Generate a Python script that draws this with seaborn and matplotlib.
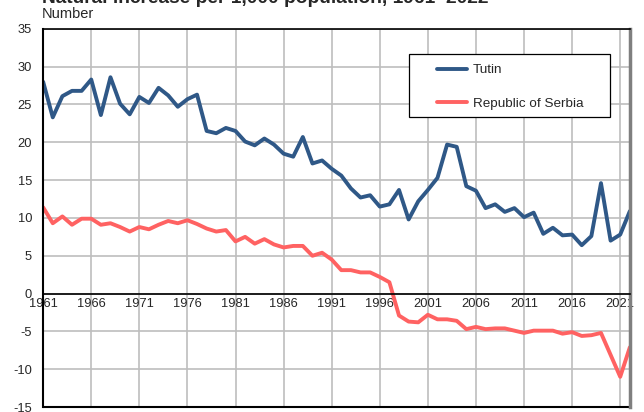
import pandas as pd
import seaborn as sns
import matplotlib.pyplot as plt
from matplotlib.patches import Rectangle

# Natural increase per 1,000 population
years = list(range(1961, 2023))
tutin = [28.0, 23.3, 26.1, 26.8, 26.8, 28.3, 23.6, 28.6, 25.1, 23.7,
         26.0, 25.2, 27.2, 26.2, 24.7, 25.7, 26.3, 21.5, 21.2, 21.9,
         21.5, 20.1, 19.6, 20.5, 19.7, 18.5, 18.1, 20.7, 17.2, 17.6,
         16.5, 15.6, 13.9, 12.7, 13.0, 11.5, 11.8, 13.7, 9.8, 12.2,
         13.7, 15.3, 19.7, 19.4, 14.2, 13.6, 11.3, 11.8, 10.8, 11.3,
         10.1, 10.7, 7.9, 8.7, 7.7, 7.8, 6.4, 7.6, 14.6, 7.0,
         7.8, 10.9]
serbia = [11.4, 9.3, 10.2, 9.1, 9.9, 9.9, 9.1, 9.3, 8.8, 8.2,
          8.8, 8.5, 9.1, 9.6, 9.3, 9.7, 9.2, 8.6, 8.2, 8.4,
          6.9, 7.5, 6.6, 7.2, 6.5, 6.1, 6.3, 6.3, 5.0, 5.4,
          4.5, 3.1, 3.1, 2.8, 2.8, 2.2, 1.5, -2.9, -3.7, -3.8,
          -2.8, -3.4, -3.4, -3.6, -4.7, -4.4, -4.7, -4.6, -4.6, -4.9,
          -5.2, -4.9, -4.9, -4.9, -5.3, -5.1, -5.6, -5.5, -5.2, -8.1,
          -11.0, -7.1]
series_names = ['Tutin', 'Republic of Serbia']
tick_years = list(range(1961, 2022, 5))

df = pd.DataFrame({'year': years * 2,
                   'value': tutin + serbia,
                   'area': [series_names[0]] * len(years) + [series_names[1]] * len(years)})

sns.set_style('white')
plt.rcParams['font.family'] = ['Liberation Sans', 'DejaVu Sans']
plt.rcParams['axes.unicode_minus'] = False

fig = plt.figure(figsize=(6.44, 4.12), dpi=100)
ax = fig.add_axes([0.067, 0.012, 0.911, 0.918])

sns.lineplot(data=df, x='year', y='value', hue='area', hue_order=series_names,
             palette=['#2F5887', '#FF6262'], linewidth=2.8, ax=ax, legend=True)

ax.set_xlim(1961, 2022)
ax.set_ylim(-15, 35)
ax.set_xticks(tick_years)
ax.set_yticks(range(-15, 36, 5))
ax.set_xlabel('')
ax.set_ylabel('')
ax.grid(True, color='#BEBEBE', linewidth=1.2)
ax.set_axisbelow(True)

# horizontal axis crosses at 0
ax.spines['bottom'].set_position(('data', 0))
ax.spines['bottom'].set_color('black')
ax.spines['bottom'].set_linewidth(1.2)
ax.axhline(-15, color='black', linewidth=1.5, clip_on=False)
ax.spines['left'].set_color('black')
ax.spines['left'].set_linewidth(1.5)
ax.spines['top'].set_color('black')
ax.spines['top'].set_linewidth(1.2)
ax.spines['right'].set_color('#7F7F7F')
ax.spines['right'].set_linewidth(2.5)
ax.tick_params(axis='x', length=0, pad=3, labelsize=9.3)
ax.tick_params(axis='y', length=0, pad=8, labelsize=9.3)

# legend without frame, box drawn separately (wide side padding like the original)
leg = ax.legend(loc='upper left', bbox_to_anchor=(437 / 644, 1 - 64 / 412),
                bbox_transform=fig.transFigure, frameon=False, fontsize=9.7,
                handlelength=2.2, labelspacing=1.55, borderpad=0, handletextpad=0.45,
                borderaxespad=0)
for line in leg.get_lines():
    line.set_linewidth(2.8)
box = Rectangle((409 / 644, 1 - 117 / 412), 201 / 644, 63 / 412,
                transform=fig.transFigure, facecolor='white',
                edgecolor='black', linewidth=0.9, zorder=4, clip_on=False)
ax.add_patch(box)
leg.set_zorder(6)

fig.text(0.065, 0.993, 'Natural increase per 1,000 population, 1961–2022',
         fontsize=13.8, fontweight='bold', va='baseline')
fig.text(0.065, 0.956, 'Number', fontsize=10.5, va='baseline')

plt.savefig('out.png', dpi=100)
